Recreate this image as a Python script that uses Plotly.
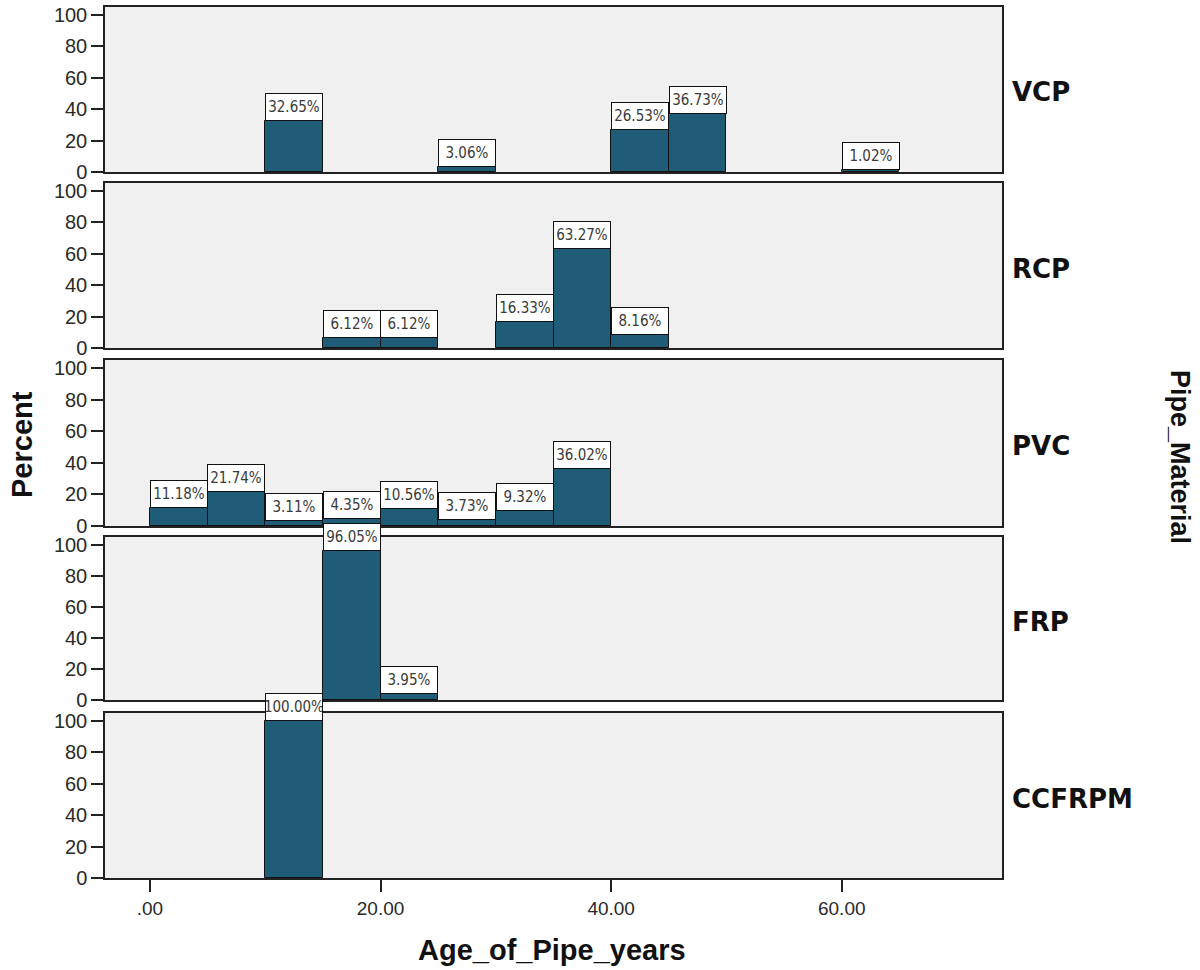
import plotly.graph_objects as go
from plotly.subplots import make_subplots

# ---- data ----
materials = ["VCP", "RCP", "PVC", "FRP", "CCFRPM"]
bin_width = 5
vcp_bins = [10, 25, 40, 45, 60]
vcp_pct = [32.65, 3.06, 26.53, 36.73, 1.02]
rcp_bins = [15, 20, 30, 35, 40]
rcp_pct = [6.12, 6.12, 16.33, 63.27, 8.16]
pvc_bins = [0, 5, 10, 15, 20, 25, 30, 35]
pvc_pct = [11.18, 21.74, 3.11, 4.35, 10.56, 3.73, 9.32, 36.02]
frp_bins = [15, 20]
frp_pct = [96.05, 3.95]
ccfrpm_bins = [10]
ccfrpm_pct = [100.00]

x_tickvals = [0, 20, 40, 60]
x_ticktext = [".00", "20.00", "40.00", "60.00"]
y_tickvals = [0, 20, 40, 60, 80, 100]

series = [
    (vcp_bins, vcp_pct),
    (rcp_bins, rcp_pct),
    (pvc_bins, pvc_pct),
    (frp_bins, frp_pct),
    (ccfrpm_bins, ccfrpm_pct),
]

# ---- layout geometry ----
W, H = 1200, 970
ML, MR, MT, MB = 105, 198, 7, 92
plot_h = H - MT - MB
panels_px = [(7, 172), (183, 348), (360, 526), (537, 700), (713, 878)]

def frac(y):
    return (H - MB - y) / plot_h

fig = make_subplots(rows=5, cols=1, shared_xaxes=False, vertical_spacing=0.01)

BAR = "#1f5c78"
for i, (bins, pct) in enumerate(series):
    r = i + 1
    fig.add_trace(
        go.Bar(
            x=bins, y=pct, width=bin_width, offset=0,
            marker=dict(color=BAR, line=dict(color="#111111", width=1)),
            showlegend=False, hoverinfo="skip",
        ),
        row=r, col=1,
    )
    for b, v in zip(bins, pct):
        fig.add_annotation(
            x=b + bin_width / 2, y=v, xref=f"x{'' if r == 1 else r}", yref=f"y{'' if r == 1 else r}",
            text=f"{v:.2f}%", showarrow=False, yanchor="bottom", xanchor="center",
            width=56, height=26, bgcolor="white", bordercolor="#111111",
            borderwidth=1, borderpad=0,
            font=dict(family="Liberation Sans Narrow, Arial Narrow, DejaVu Sans Condensed, Arial, sans-serif",
                      size=15, color="#3a3a3a"),
        )

for i in range(5):
    r = i + 1
    top_px, bot_px = panels_px[i]
    dom = [frac(bot_px), frac(top_px)]
    is_bottom = (r == 5)
    fig.update_yaxes(
        row=r, col=1, domain=dom, range=[0, 105], tickvals=y_tickvals,
        showgrid=False, zeroline=False, showline=True, mirror=True,
        linecolor="#222222", linewidth=1.5, ticks="outside", ticklen=12,
        tickwidth=1.5, tickcolor="#222222", automargin=False,
        tickfont=dict(family="Arial, Liberation Sans, sans-serif", size=20, color="#2a2a2a"),
    )
    fig.update_xaxes(
        row=r, col=1, range=[-3.9, 73.9], tickvals=x_tickvals, ticktext=x_ticktext,
        showgrid=False, zeroline=False, showline=True, mirror=True,
        linecolor="#222222", linewidth=1.5, automargin=False,
        ticks="outside" if is_bottom else "", ticklen=12, tickwidth=1.5, tickcolor="#222222",
        showticklabels=is_bottom,
        tickfont=dict(family="Arial, Liberation Sans, sans-serif", size=19, color="#2a2a2a"),
    )
    # strip label
    fig.add_annotation(
        x=1, y=(dom[0] + dom[1]) / 2, xref="paper", yref="paper", xshift=8, yshift=-3,
        text=f"<b>{materials[i]}</b>", showarrow=False, xanchor="left", yanchor="middle",
        font=dict(family="DejaVu Sans, Arial, sans-serif", size=26, color="#111111"),
    )

title_font = dict(family="Arial, Liberation Sans, sans-serif", size=29, color="#111111")
fig.add_annotation(
    x=(22 - ML) / (W - ML - MR), y=frac(445), xref="paper", yref="paper",
    text="<b>Percent</b>", textangle=-90, showarrow=False,
    xanchor="center", yanchor="middle", font=title_font,
)
fig.add_annotation(
    x=(552 - ML) / (W - ML - MR), y=frac(950), xref="paper", yref="paper",
    text="<b>Age_of_Pipe_years</b>", showarrow=False,
    xanchor="center", yanchor="middle", font=title_font,
)
fig.add_annotation(
    x=(1180 - ML) / (W - ML - MR), y=frac(457), xref="paper", yref="paper",
    text="<b>Pipe_Material</b>", textangle=90, showarrow=False,
    xanchor="center", yanchor="middle",
    font=dict(family="Arial, Liberation Sans, sans-serif", size=27, color="#111111"),
)

fig.update_layout(
    width=W, height=H,
    margin=dict(l=ML, r=MR, t=MT, b=MB, autoexpand=False),
    paper_bgcolor="white", plot_bgcolor="#f0f0f0",
    bargap=0, showlegend=False,
)

fig.write_html("out.html", config={"displayModeBar": False},
               post_script="document.body.style.margin='0px';")
